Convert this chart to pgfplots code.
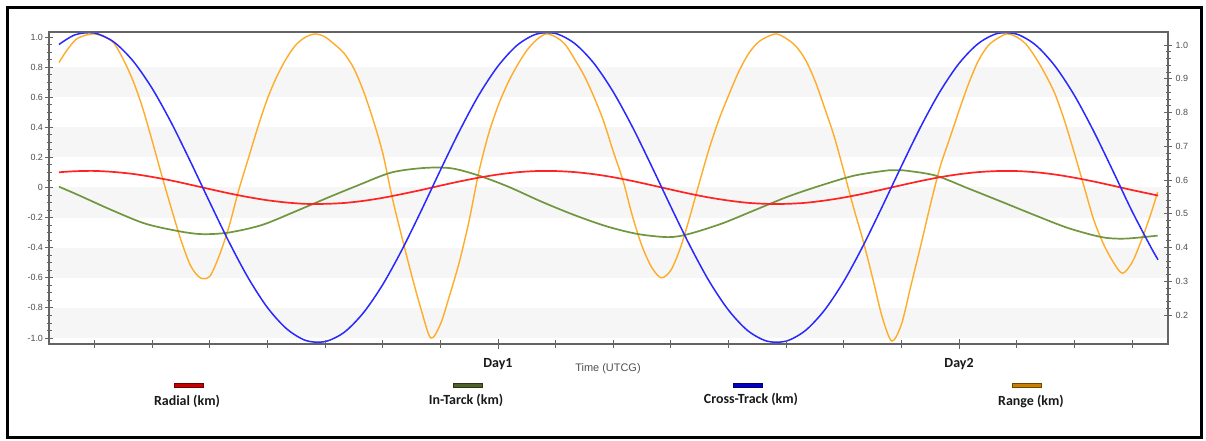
\documentclass[border=0pt]{standalone}
\usepackage{pgfplots}
\pgfplotsset{compat=1.18}
\usepackage{pgfplotstable}
\usepackage{fontspec}
\setmainfont{Liberation Sans}
\newfontfamily\calfont{Carlito}

\definecolor{cRad}{RGB}{255,35,35}
\definecolor{cInt}{RGB}{112,150,62}
\definecolor{cCrs}{RGB}{40,40,255}
\definecolor{cRng}{RGB}{255,172,40}
\definecolor{sRad}{RGB}{200,0,0}
\definecolor{sInt}{RGB}{79,98,40}
\definecolor{sCrs}{RGB}{0,0,200}
\definecolor{sRng}{RGB}{200,128,0}
\definecolor{band}{RGB}{246,246,246}
\definecolor{axgray}{RGB}{100,100,100}
\definecolor{lblgray}{RGB}{80,80,80}

\pgfplotstableread{
h y
1.15 0.101
2 0.108
3 0.110
4 0.103
5 0.090
6 0.070
7 0.046
8 0.018
9 -0.011
10 -0.039
11 -0.064
12 -0.085
13 -0.100
14 -0.109
15 -0.109
16 -0.103
17 -0.089
18 -0.069
19 -0.044
20 -0.017
21 0.012
22 0.040
23 0.065
24 0.086
25 0.101
26 0.109
27 0.109
28 0.102
29 0.088
30 0.068
31 0.043
32 0.015
33 -0.014
34 -0.042
35 -0.067
36 -0.087
37 -0.102
38 -0.109
39 -0.109
40 -0.102
41 -0.087
42 -0.067
43 -0.042
44 -0.014
45 0.015
46 0.043
47 0.068
48 0.088
49 0.102
50 0.109
51 0.109
52 0.101
53 0.086
54 0.065
55 0.040
56 0.012
57 -0.017
58 -0.044
58.36 -0.054
}\radial

\pgfplotstableread{
h y
1.15 0.005
2.15 -0.05
3.89 -0.15
5.63 -0.24
7.36 -0.29
8.58 -0.31
9.96 -0.30
11.70 -0.25
13.44 -0.16
15.10 -0.07
16.73 0.015
18.47 0.10
20.20 0.13
21.59 0.127
22.98 0.08
24.54 0.005
26.28 -0.095
28.01 -0.185
29.70 -0.26
31.31 -0.31
32.87 -0.33
33.91 -0.31
35.65 -0.24
37.38 -0.15
39.11 -0.06
40.85 0.015
42.59 0.08
44.41 0.115
45.02 0.115
46.75 0.08
48.49 -0.007
50.22 -0.095
51.96 -0.185
53.69 -0.27
55.43 -0.33
56.64 -0.34
58.34 -0.32
}\intrack

\pgfplotstableread{
h y
1.15 0.950
2 1.015
3 1.026
4 0.967
5 0.841
6 0.658
7 0.429
8 0.170
9 -0.099
10 -0.362
11 -0.601
12 -0.798
13 -0.939
14 -1.017
15 -1.024
16 -0.962
17 -0.832
18 -0.646
19 -0.415
20 -0.156
21 0.114
22 0.376
23 0.613
24 0.806
25 0.945
26 1.019
27 1.023
28 0.956
29 0.824
30 0.635
31 0.402
32 0.141
33 -0.128
34 -0.389
35 -0.624
36 -0.815
37 -0.951
38 -1.021
39 -1.021
40 -0.951
41 -0.815
42 -0.624
43 -0.389
44 -0.128
45 0.141
46 0.402
47 0.635
48 0.824
49 0.956
50 1.023
51 1.019
52 0.945
53 0.806
54 0.613
55 0.376
56 0.113
57 -0.156
58 -0.400
58.36 -0.480
}\crosstrack

\pgfplotstableread{
h y
1.15 0.83
1.5 0.90
2.0 0.98
2.5 1.01
3.0 1.02
3.5 1.00
4.0 0.96
4.5 0.85
5.0 0.71
5.5 0.53
6.0 0.31
6.5 0.08
7.0 -0.14
7.5 -0.35
8.0 -0.52
8.5 -0.60
9.0 -0.59
9.5 -0.45
10.0 -0.26
10.5 -0.02
11.0 0.19
11.5 0.40
12.0 0.59
12.5 0.74
13.0 0.86
13.5 0.95
14.0 1.00
14.5 1.02
15.0 1.00
15.5 0.95
16.0 0.89
16.5 0.79
17.0 0.64
17.5 0.45
18.0 0.23
18.5 -0.07
19.0 -0.33
19.5 -0.58
20.0 -0.81
20.5 -1.00
21.0 -0.91
21.5 -0.71
22.0 -0.49
22.5 -0.22
23.0 0.10
23.5 0.35
24.0 0.54
24.5 0.69
25.0 0.81
25.5 0.91
26.0 0.98
26.5 1.02
27.0 1.00
27.5 0.95
28.0 0.85
28.5 0.74
29.0 0.60
29.5 0.44
30.0 0.24
30.5 0.05
31.0 -0.19
31.5 -0.39
32.0 -0.53
32.5 -0.60
33.0 -0.55
33.5 -0.40
34.0 -0.19
34.5 0.04
35.0 0.26
35.5 0.45
36.0 0.61
36.5 0.76
37.0 0.88
37.5 0.96
38.0 1.00
38.5 1.02
39.0 0.99
39.5 0.94
40.0 0.85
40.5 0.71
41.0 0.53
41.5 0.34
42.0 0.11
42.5 -0.13
43.0 -0.35
43.5 -0.60
44.0 -0.86
44.5 -1.02
45.0 -0.91
45.5 -0.65
46.0 -0.39
46.5 -0.12
47.0 0.13
47.5 0.32
48.0 0.51
48.5 0.69
49.0 0.84
49.5 0.94
50.0 0.99
50.5 1.02
51.0 1.00
51.5 0.95
52.0 0.86
52.5 0.75
53.0 0.62
53.5 0.44
54.0 0.23
54.5 0.01
55.0 -0.21
55.5 -0.37
56.0 -0.49
56.5 -0.57
57.0 -0.50
57.5 -0.35
58.0 -0.17
58.34 -0.03
}\range

\begin{document}
\begin{tikzpicture}[x=1bp,y=1bp]
\useasboundingbox (0,0) rectangle (1206,441);
\fill[white] (0,0) rectangle (1206,441);
\draw[black, line width=3bp] (7.5,433.5) rectangle (1201.5,3.5);

\begin{axis}[
  at={(49bp,97bp)}, anchor=south west, scale only axis,
  width=1119bp, height=312bp,
  xmin=0.63, xmax=58.88, ymin=-1.04, ymax=1.033,
  axis on top,
  axis line style={draw=axgray, line width=1.1bp},
  every tick/.style={draw=axgray, line width=0.8bp},
  tick align=center,
  major tick length=8bp, minor tick length=5bp,
  xtick={3,6,...,21,27,30,...,45,51,54,57}, xticklabels={},
  xtick pos=bottom,
  extra x ticks={24,48}, extra x tick labels={Day1,Day2},
  extra x tick style={major tick length=10bp,
    tick label style={font=\calfont\bfseries\fontsize{14}{14}\selectfont, text=black!90, yshift=-6bp}},
  ytick={-1,-0.8,-0.6,-0.4,-0.2,0,0.2,0.4,0.6,0.8,1},
  yticklabels={-1.0,-0.8,-0.6,-0.4,-0.2,0,0.2,0.4,0.6,0.8,1.0},
  minor y tick num=3,
  ytick pos=left,
  yticklabel style={font=\fontsize{9}{9}\selectfont, text=lblgray, xshift=1.5bp},
]
\fill[band] (0.63,0.6) rectangle (58.88,0.8);
\fill[band] (0.63,0.2) rectangle (58.88,0.4);
\fill[band] (0.63,-0.2) rectangle (58.88,0);
\fill[band] (0.63,-0.6) rectangle (58.88,-0.4);
\fill[band] (0.63,-1.0) rectangle (58.88,-0.8);
\addplot[cRng, line width=1.4bp, smooth, no marks] table[x=h,y=y] {\range};
\addplot[cInt, line width=1.7bp, smooth, no marks] table[x=h,y=y] {\intrack};
\addplot[cRad, line width=1.7bp, smooth, no marks] table[x=h,y=y] {\radial};
\addplot[cCrs, line width=1.5bp, smooth, no marks] table[x=h,y=y] {\crosstrack};
\end{axis}

\begin{axis}[
  at={(49bp,97bp)}, anchor=south west, scale only axis,
  width=1119bp, height=312bp,
  xmin=0.63, xmax=58.88, ymin=0.114, ymax=1.0385,
  axis x line=none, axis y line*=right,
  axis line style={draw=axgray, line width=1.1bp},
  every tick/.style={draw=axgray, line width=0.8bp},
  tick align=center,
  major tick length=8bp, minor tick length=5bp,
  ytick={0.2,0.3,0.4,0.5,0.6,0.7,0.8,0.9,1.0},
  yticklabels={0.2,0.3,0.4,0.5,0.6,0.7,0.8,0.9,1.0},
  minor y tick num=4,
  yticklabel style={font=\fontsize{9}{9}\selectfont, text=lblgray},
]
\end{axis}

\node[font=\fontsize{11}{11}\selectfont, text=lblgray] at (608,72) {Time (UTCG)};

\draw[sRad!55!black, fill=sRad, line width=0.6bp] (174,54) rectangle (203,58);
\node[font=\calfont\bfseries\fontsize{14}{14}\selectfont, text=black!90] at (187,39.5) {Radial (km)};
\draw[sInt!55!black, fill=sInt, line width=0.6bp] (453,54) rectangle (482,58);
\node[font=\calfont\bfseries\fontsize{14}{14}\selectfont, text=black!90] at (466,41) {In-Tarck (km)};
\draw[sCrs!55!black, fill=sCrs, line width=0.6bp] (733,54) rectangle (762,58);
\node[font=\calfont\bfseries\fontsize{14}{14}\selectfont, text=black!90] at (751,42) {Cross-Track (km)};
\draw[sRng!55!black, fill=sRng, line width=0.6bp] (1012,54) rectangle (1041,58);
\node[font=\calfont\bfseries\fontsize{14}{14}\selectfont, text=black!90] at (1031,39) {Range (km)};
\end{tikzpicture}
\end{document}
